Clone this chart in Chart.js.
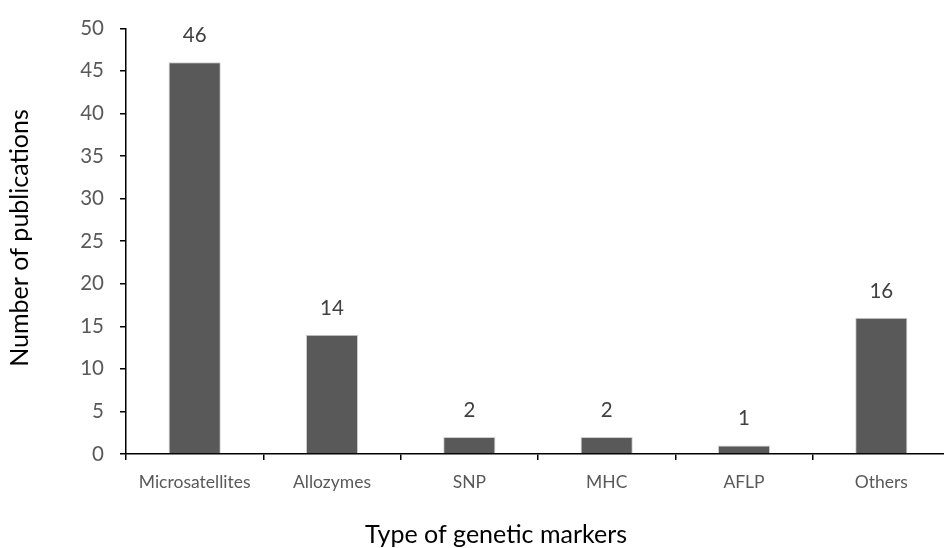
<!DOCTYPE html>
<html>
<head>
<meta charset="utf-8">
<script src="https://cdn.jsdelivr.net/npm/chart.js@4.4.0/dist/chart.umd.min.js"></script>
<style>
  html, body { margin: 0; padding: 0; overflow: hidden; background: #fff; }
  #wrap { width: 960px; height: 548px; }
</style>
</head>
<body>
<div id="wrap"><canvas id="chart"></canvas></div>
<script>
const markerTypes = ['Microsatellites', 'Allozymes', 'SNP', 'MHC', 'AFLP', 'Others'];
const publicationCounts = [46, 14, 2, 2, 1, 16];
const yTicks = [0, 5, 10, 15, 20, 25, 30, 35, 40, 45, 50];
const xTitle = 'Type of genetic markers';
const yTitle = 'Number of publications';

const FONT = 'Lato';

// value labels above each bar
const barLabels = {
  id: 'barLabels',
  afterDatasetsDraw(chart) {
    const ctx = chart.ctx;
    const meta = chart.getDatasetMeta(0);
    ctx.save();
    ctx.font = '20.5px ' + FONT;
    ctx.fillStyle = '#404040';
    ctx.textAlign = 'center';
    ctx.textBaseline = 'alphabetic';
    meta.data.forEach((bar, i) => {
      ctx.fillText(String(publicationCounts[i]), bar.x, bar.y - 20);
    });
    ctx.restore();
  }
};

// axis titles placed like the original
const axisTitles = {
  id: 'axisTitles',
  afterDraw(chart) {
    const ctx = chart.ctx;
    ctx.save();
    ctx.font = '25px ' + FONT;
    ctx.fillStyle = '#000';
    ctx.textAlign = 'center';
    ctx.textBaseline = 'alphabetic';
    ctx.fillText(xTitle, 496, 543);
    ctx.translate(28, 238);
    ctx.rotate(-Math.PI / 2);
    ctx.fillText(yTitle, 0, 0);
    ctx.restore();
  }
};

new Chart(document.getElementById('chart'), {
  type: 'bar',
  data: {
    labels: markerTypes,
    datasets: [{
      data: publicationCounts,
      backgroundColor: '#595959',
      borderColor: '#d0d0d0',
      borderWidth: 1,
      barPercentage: 0.38,
      categoryPercentage: 1.0
    }]
  },
  options: {
    responsive: true,
    maintainAspectRatio: false,
    animation: false,
    layout: { padding: { top: 27, right: 10, left: 0, bottom: 0 } },
    plugins: {
      legend: { display: false },
      tooltip: { enabled: false }
    },
    scales: {
      x: {
        grid: { drawOnChartArea: false, drawTicks: true, tickLength: 6, color: '#000', lineWidth: 1.5 },
        border: { display: true, color: '#000', width: 1.5 },
        ticks: { color: '#595959', font: { family: FONT, size: 17.5 }, padding: 12, maxRotation: 0, autoSkip: false },
        afterFit: (scale) => { scale.height = 94; }
      },
      y: {
        min: 0,
        max: 50,
        afterBuildTicks: (scale) => { scale.ticks = yTicks.map(v => ({ value: v })); },
        grid: { drawOnChartArea: false, drawTicks: true, tickLength: 6, color: '#000', lineWidth: 1.5 },
        border: { display: true, color: '#000', width: 1.5 },
        ticks: { color: '#595959', font: { family: FONT, size: 20.5 }, padding: 16 },
        afterFit: (scale) => { scale.width = 126; }
      }
    }
  },
  plugins: [barLabels, axisTitles]
});
</script>
</body>
</html>
